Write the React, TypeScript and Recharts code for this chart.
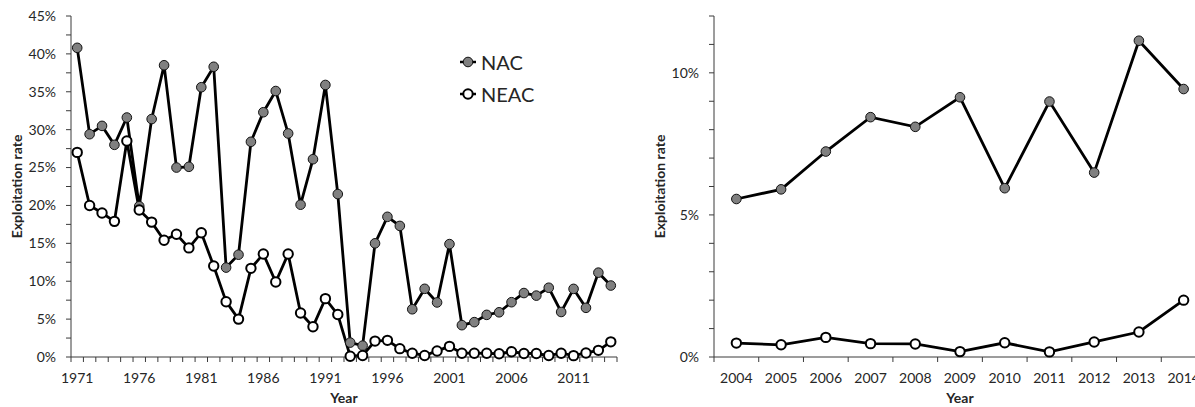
import { LineChart, Line, XAxis, YAxis, Label } from "recharts";

const years = [
  1971, 1972, 1973, 1974, 1975, 1976, 1977, 1978, 1979, 1980, 1981, 1982, 1983, 1984, 1985,
  1986, 1987, 1988, 1989, 1990, 1991, 1992, 1993, 1994, 1995, 1996, 1997, 1998, 1999, 2000,
  2001, 2002, 2003, 2004, 2005, 2006, 2007, 2008, 2009, 2010, 2011, 2012, 2013, 2014,
];

// exploitation rate, %
const nac = [
  40.8, 29.4, 30.5, 28.0, 31.6, 19.9, 31.4, 38.5, 25.0, 25.1, 35.6, 38.3, 11.8, 13.5, 28.4,
  32.3, 35.1, 29.5, 20.1, 26.1, 35.9, 21.5, 1.9, 1.5, 15.0, 18.5, 17.3, 6.3, 9.0, 7.2,
  14.9, 4.2, 4.6, 5.56, 5.9, 7.23, 8.44, 8.1, 9.14, 5.94, 8.99, 6.49, 11.13, 9.43,
];
const neac = [
  27.0, 20.0, 19.0, 17.9, 28.5, 19.4, 17.8, 15.4, 16.2, 14.4, 16.4, 12.0, 7.3, 5.0, 11.7,
  13.6, 9.9, 13.6, 5.8, 4.0, 7.7, 5.6, 0.1, 0.2, 2.1, 2.2, 1.1, 0.5, 0.2, 0.8,
  1.4, 0.5, 0.5, 0.49, 0.43, 0.69, 0.47, 0.46, 0.19, 0.5, 0.18, 0.53, 0.88, 2.0,
];

const leftYearLabels = [1971, 1976, 1981, 1986, 1991, 1996, 2001, 2006, 2011];
const rightYearLabels = [2004, 2005, 2006, 2007, 2008, 2009, 2010, 2011, 2012, 2013, 2014];
const leftYTicks = [0, 2.5, 5, 7.5, 10, 12.5, 15, 17.5, 20, 22.5, 25, 27.5, 30, 32.5, 35, 37.5, 40, 42.5, 45];
const leftYLabels = [0, 5, 10, 15, 20, 25, 30, 35, 40, 45];
const rightYTicks = [0, 1, 2, 3, 4, 5, 6, 7, 8, 9, 10, 11, 12];
const rightYLabels = [0, 5, 10];

const allData = years.map((year, i) => ({ year, NAC: nac[i], NEAC: neac[i] }));
const recentData = allData.filter((d) => d.year >= 2004);

const FONT = "Lato, 'Open Sans', sans-serif";
const AXIS = "#3a3a3a";
const TEXT = "#262626";

// tick marks sit between categories (Excel style), labels at the category centre
function xTicksFor(ys: number[], labels: number[]) {
  const bounds = ys.map((y) => y - 0.5).concat([ys[ys.length - 1] + 0.5]);
  return bounds.concat(labels).sort((a, b) => a - b);
}

function makeXTick(labels: number[]) {
  return (props: any) => {
    const { x, y, payload } = props;
    const v = payload.value;
    if (!Number.isInteger(v)) {
      return <line x1={x} y1={y} x2={x} y2={y + 5} stroke={AXIS} strokeWidth={1} />;
    }
    if (!labels.includes(v)) return <g />;
    return (
      <text x={x} y={y + 21} dy="0.35em" textAnchor="middle" fill={TEXT} fontSize={14} fontFamily={FONT}>
        {v}
      </text>
    );
  };
}

function makeYTick(labels: number[]) {
  return (props: any) => {
    const { x, y, payload } = props;
    const v = payload.value;
    return (
      <g>
        <line x1={x - 5} y1={y} x2={x} y2={y} stroke={AXIS} strokeWidth={1} />
        {labels.includes(v) && (
          <text x={x - 15} y={y} dy="0.35em" textAnchor="end" fill={TEXT} fontSize={14} fontFamily={FONT}>
            {v}%
          </text>
        )}
      </g>
    );
  };
}

function yTitle(dx: number) {
  return (props: any) => {
    const vb = props.viewBox || { x: 0, y: 16, width: 70, height: 341 };
    const cx = vb.x + dx;
    const cy = vb.y + vb.height / 2;
    return (
      <text
        x={cx}
        y={cy}
        dy="0.35em"
        textAnchor="middle"
        transform={`rotate(-90, ${cx}, ${cy})`}
        fill={TEXT}
        fontSize={14}
        fontWeight="bold"
        fontFamily={FONT}
      >
        Exploitation rate
      </text>
    );
  };
}

const nacDot = { r: 4.8, fill: "#808080", stroke: "#111", strokeWidth: 1 };
const neacDot = { r: 4.7, fill: "#fff", stroke: "#000", strokeWidth: 2 };

function LegendBox() {
  const rows = [
    { name: "NAC", dot: nacDot, top: 50 },
    { name: "NEAC", dot: neacDot, top: 82 },
  ];
  return (
    <div style={{ position: "absolute", left: 458, top: 0 }}>
      {rows.map((r) => (
        <div key={r.name} style={{ position: "absolute", top: r.top, left: 0, display: "flex", alignItems: "center", whiteSpace: "nowrap" }}>
          <svg width={22} height={24}>
            <line x1={2} y1={12} x2={18} y2={12} stroke="#000" strokeWidth={2.5} />
            <circle cx={10} cy={12} r={r.dot.r} fill={r.dot.fill} stroke={r.dot.stroke} strokeWidth={r.dot.strokeWidth} />
          </svg>
          <span style={{ fontFamily: FONT, fontSize: 20, color: TEXT, marginLeft: 1, lineHeight: "24px" }}>{r.name}</span>
        </div>
      ))}
    </div>
  );
}

export default function App() {
  return (
    <div
      style={{
        position: "fixed",
        left: 0,
        top: 0,
        width: 1195,
        height: 407,
        overflow: "hidden",
        background: "#fff",
        fontFamily: FONT,
      }}
    >
      <div style={{ position: "absolute", left: 0, top: 0 }}>
        <LineChart width={630} height={407} data={allData} margin={{ top: 16, right: 13, bottom: 0, left: 0 }}>
          <XAxis
            dataKey="year"
            type="number"
            domain={[1970.5, 2014.5]}
            ticks={xTicksFor(years, leftYearLabels)}
            interval={0}
            tickSize={0}
            tickMargin={0}
            tickLine={false}
            tick={makeXTick(leftYearLabels)}
            height={50}
            stroke={AXIS}
          >
            <Label value="Year" position="insideBottom" offset={4} fill={TEXT} fontSize={14} fontWeight="bold" fontFamily={FONT} />
          </XAxis>
          <YAxis
            type="number"
            domain={[0, 45]}
            ticks={leftYTicks}
            interval={0}
            tickSize={0}
            tickMargin={0}
            tickLine={false}
            tick={makeYTick(leftYLabels)}
            width={71}
            stroke={AXIS}
            label={yTitle(17)}
          />
          <Line dataKey="NAC" stroke="#000" strokeWidth={2.8} dot={nacDot} activeDot={false} isAnimationActive={false} />
          <Line dataKey="NEAC" stroke="#000" strokeWidth={2.8} dot={neacDot} activeDot={false} isAnimationActive={false} />
        </LineChart>
        <LegendBox />
      </div>
      <div style={{ position: "absolute", left: 640, top: 0 }}>
        <LineChart width={566} height={407} data={recentData} margin={{ top: 16, right: 0, bottom: 0, left: 0 }}>
          <XAxis
            dataKey="year"
            type="number"
            domain={[2003.5, 2014.5]}
            ticks={xTicksFor(rightYearLabels, rightYearLabels)}
            interval={0}
            tickSize={0}
            tickMargin={0}
            tickLine={false}
            tick={makeXTick(rightYearLabels)}
            height={50}
            stroke={AXIS}
          >
            <Label value="Year" position="insideBottom" offset={4} fill={TEXT} fontSize={14} fontWeight="bold" fontFamily={FONT} />
          </XAxis>
          <YAxis
            type="number"
            domain={[0, 12]}
            ticks={rightYTicks}
            interval={0}
            tickSize={0}
            tickMargin={0}
            tickLine={false}
            tick={makeYTick(rightYLabels)}
            width={74}
            stroke={AXIS}
            label={yTitle(20)}
          />
          <Line dataKey="NAC" stroke="#000" strokeWidth={2.8} dot={nacDot} activeDot={false} isAnimationActive={false} />
          <Line dataKey="NEAC" stroke="#000" strokeWidth={2.8} dot={neacDot} activeDot={false} isAnimationActive={false} />
        </LineChart>
      </div>
    </div>
  );
}
